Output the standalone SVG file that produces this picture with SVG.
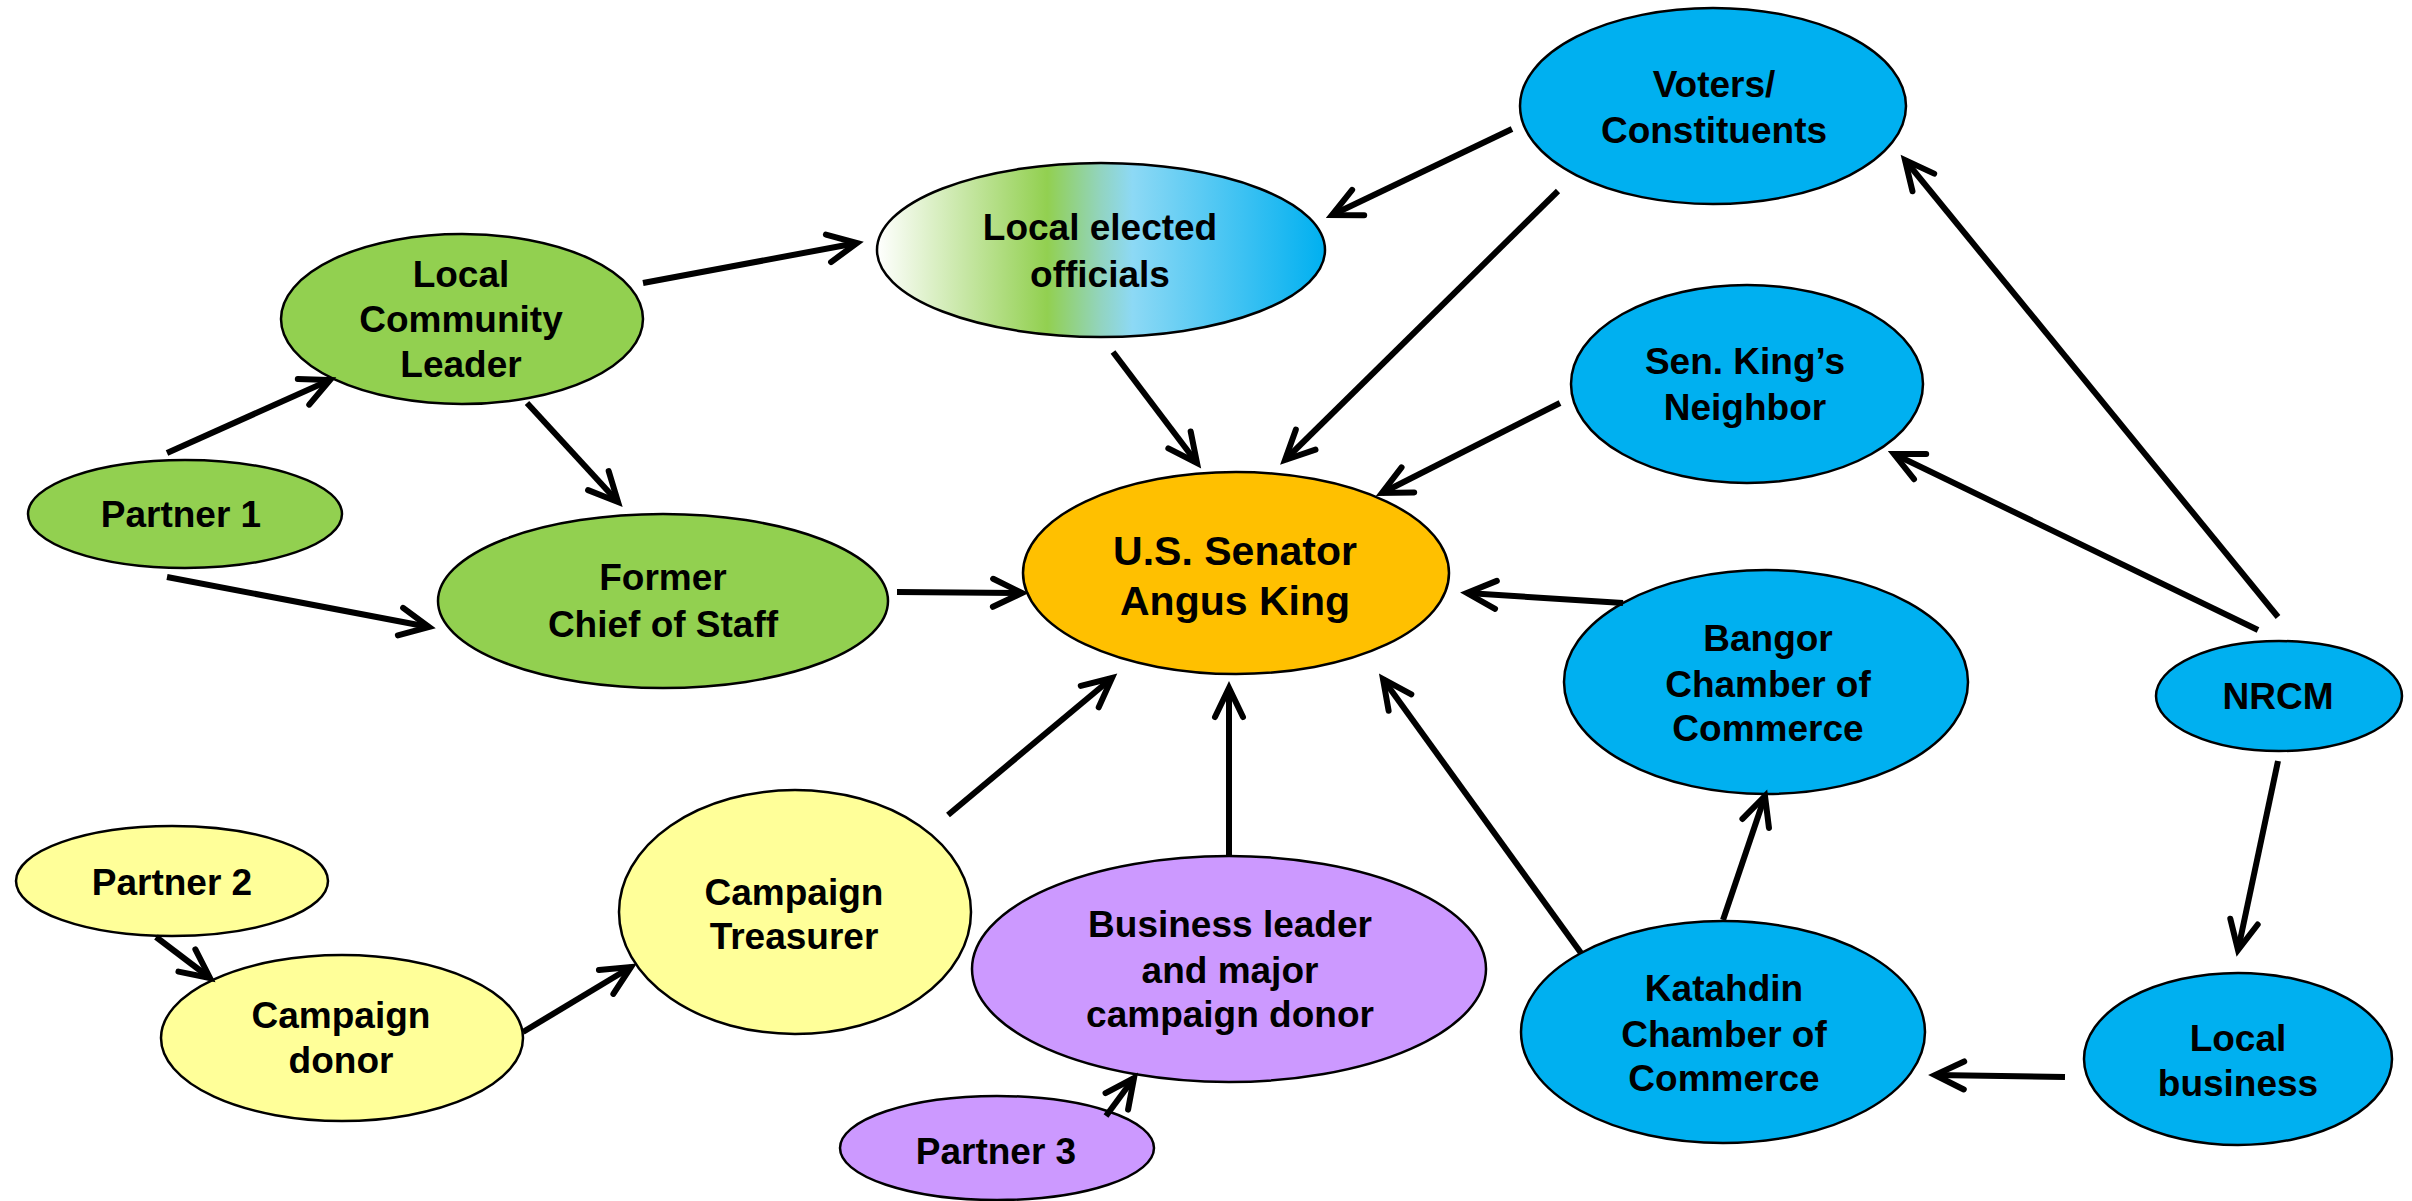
<svg xmlns="http://www.w3.org/2000/svg" width="2412" height="1201" viewBox="0 0 2412 1201">
<style>
.n{stroke:#000;stroke-width:2.5}
.g{fill:#92D050}.b{fill:#00B0F0}.y{fill:#FFFF99}.p{fill:#CC99FF}.o{fill:#FFC000}
text{font-family:"Liberation Sans",Arial,sans-serif;font-weight:bold;font-size:37px;fill:#000;text-anchor:middle}
.big{font-size:41px}
#connectors line{stroke:#000;stroke-width:6;marker-end:url(#ah)}
</style>
<defs>
<linearGradient id="lg" x1="0" y1="0" x2="1" y2="0">
<stop offset="0" stop-color="#FFFFFF"/>
<stop offset="0.38" stop-color="#92D050"/>
<stop offset="0.5" stop-color="#92D4C0"/>
<stop offset="0.57" stop-color="#8DD9F5"/>
<stop offset="1" stop-color="#00B0F0"/>
</linearGradient>
<marker id="ah" markerUnits="userSpaceOnUse" viewBox="-36 -20 42 40" refX="0" refY="0" markerWidth="42" markerHeight="40" orient="auto" overflow="visible">
<path d="M-29,-14 L0,0 L-29,14" fill="none" stroke="#000" stroke-width="6" stroke-linecap="round" stroke-linejoin="miter"/>
</marker>
</defs>
<rect width="2412" height="1201" fill="#fff"/>

<g id="voters"><ellipse class="n b" cx="1713" cy="106" rx="193" ry="98"/><text x="1714" y="97">Voters/</text><text x="1714" y="143">Constituents</text></g>
<g id="local-elected"><ellipse class="n" fill="url(#lg)" cx="1101" cy="250" rx="224" ry="87"/><text x="1100" y="240">Local elected</text><text x="1100" y="287">officials</text></g>
<g id="leader"><ellipse class="n g" cx="462" cy="319" rx="181" ry="85"/><text x="461" y="287">Local</text><text x="461" y="332">Community</text><text x="461" y="377">Leader</text></g>
<g id="partner1"><ellipse class="n g" cx="185" cy="514" rx="157" ry="54"/><text x="181" y="527">Partner 1</text></g>
<g id="former"><ellipse class="n g" cx="663" cy="601" rx="225" ry="87"/><text x="663" y="590">Former</text><text x="663" y="637">Chief of Staff</text></g>
<g id="senator"><ellipse class="n o" cx="1236" cy="573" rx="213" ry="101"/><text class="big" x="1235" y="565">U.S. Senator</text><text class="big" x="1235" y="615">Angus King</text></g>
<g id="neighbor"><ellipse class="n b" cx="1747" cy="384" rx="176" ry="99"/><text x="1745" y="374">Sen. King’s</text><text x="1745" y="420">Neighbor</text></g>
<g id="bangor"><ellipse class="n b" cx="1766" cy="682" rx="202" ry="112"/><text x="1768" y="651">Bangor</text><text x="1768" y="697">Chamber of</text><text x="1768" y="741">Commerce</text></g>
<g id="nrcm"><ellipse class="n b" cx="2279" cy="696" rx="123" ry="55"/><text x="2278" y="709">NRCM</text></g>
<g id="katahdin"><ellipse class="n b" cx="1723" cy="1032" rx="202" ry="111"/><text x="1724" y="1001">Katahdin</text><text x="1724" y="1047">Chamber of</text><text x="1724" y="1091">Commerce</text></g>
<g id="local-business"><ellipse class="n b" cx="2238" cy="1059" rx="154" ry="86"/><text x="2238" y="1051">Local</text><text x="2238" y="1096">business</text></g>
<g id="business-leader"><ellipse class="n p" cx="1229" cy="969" rx="257" ry="113"/><text x="1230" y="937">Business leader</text><text x="1230" y="983">and major</text><text x="1230" y="1027">campaign donor</text></g>
<g id="partner3"><ellipse class="n p" cx="997" cy="1148" rx="157" ry="52"/><text x="996" y="1164">Partner 3</text></g>
<g id="treasurer"><ellipse class="n y" cx="795" cy="912" rx="176" ry="122"/><text x="794" y="905">Campaign</text><text x="794" y="949">Treasurer</text></g>
<g id="partner2"><ellipse class="n y" cx="172" cy="881" rx="156" ry="55"/><text x="172" y="895">Partner 2</text></g>
<g id="donor"><ellipse class="n y" cx="342" cy="1038" rx="181" ry="83"/><text x="341" y="1028">Campaign</text><text x="341" y="1073">donor</text></g>

<g id="connectors">
<line x1="167" y1="453" x2="330" y2="380"/>
<line x1="527" y1="403" x2="618" y2="502"/>
<line x1="167" y1="577" x2="429" y2="627"/>
<line x1="643" y1="283" x2="857" y2="243"/>
<line x1="1512" y1="129" x2="1332" y2="215"/>
<line x1="1113" y1="352" x2="1197" y2="463"/>
<line x1="1558" y1="191" x2="1285" y2="460"/>
<line x1="1560" y1="403" x2="1382" y2="493"/>
<line x1="897" y1="592" x2="1022" y2="593"/>
<line x1="1623" y1="603" x2="1467" y2="593"/>
<line x1="2278" y1="617" x2="1905" y2="160"/>
<line x1="2258" y1="630" x2="1894" y2="454"/>
<line x1="2278" y1="761" x2="2238" y2="950"/>
<line x1="2065" y1="1077" x2="1935" y2="1075"/>
<line x1="1723" y1="920" x2="1765" y2="796"/>
<line x1="1581" y1="953" x2="1383" y2="679"/>
<line x1="1229" y1="856" x2="1229" y2="688"/>
<line x1="948" y1="815" x2="1112" y2="678"/>
<line x1="1106" y1="1116" x2="1134" y2="1078"/>
<line x1="156" y1="937" x2="210" y2="978"/>
<line x1="523" y1="1032" x2="631" y2="967"/>
</g>
</svg>
